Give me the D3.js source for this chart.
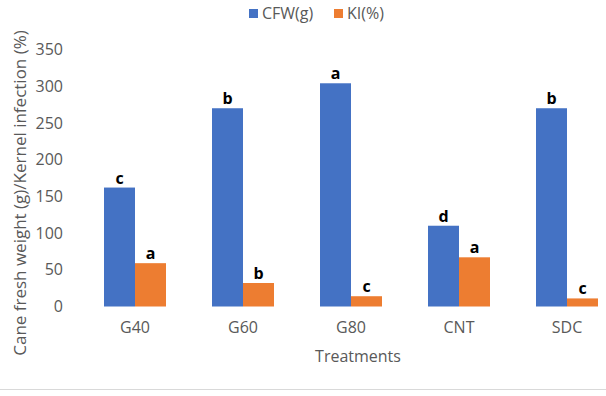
<!DOCTYPE html>
<html>
<head>
<meta charset="utf-8">
<script src="https://cdn.jsdelivr.net/npm/d3@7"></script>
<style>
  body { margin: 0; background: #fff; }
  text { font-family: "Open Sans", "Liberation Sans", sans-serif; }
</style>
</head>
<body>
<div id="graphicContainer"></div>
<script>
var treatments = ["G40", "G60", "G80", "CNT", "SDC"]
var seriesNames = ["CFW(g)", "KI(%)"]
var cfw = [162, 270, 304, 110, 270]
var ki = [59, 32, 14, 67, 11]
var cfwLetters = ["c", "b", "a", "d", "b"]
var kiLetters = ["a", "b", "c", "a", "c"]
var yTicks = [0, 50, 100, 150, 200, 250, 300, 350]

var colours = ["#4472c4", "#ed7d31"]

var width = 606
var height = 396

var svg = d3.select("#graphicContainer").append("svg")
	.attr("width", width)
	.attr("height", height)

// chart frame bottom edge
svg.append("line")
	.attr("x1", 0).attr("x2", width)
	.attr("y1", 389.5).attr("y2", 389.5)
	.attr("stroke", "#d9d9d9")

var x = d3.scaleBand()
	.domain(treatments)
	.range([81, 621])
	.paddingInner(0)

var x1 = d3.scaleBand()
	.domain(seriesNames)
	.range([23, 85])

var y = d3.scaleLinear()
	.domain([0, 350])
	.range([306.5, 49.5])

// y tick labels
var yAxis = svg.append("g")
	.attr("transform", "translate(67,0)")
	.call(d3.axisLeft(y).tickValues(yTicks).tickSize(0).tickPadding(4))
yAxis.select(".domain").remove()
yAxis.selectAll("text")
	.attr("font-size", 16)
	.attr("fill", "#595959")
	.style("font-family", "'Open Sans', sans-serif")

// x tick labels
var xAxis = svg.append("g")
	.attr("transform", "translate(0,306.5)")
	.call(d3.axisBottom(x).tickSize(0).tickPadding(15))
xAxis.select(".domain").remove()
xAxis.selectAll("text")
	.attr("font-size", 16)
	.attr("fill", "#595959")
	.style("font-family", "'Open Sans', sans-serif")

var rows = treatments.map(function(t, i) {
	return {name: t, vals: [
		{key: seriesNames[0], v: cfw[i], letter: cfwLetters[i]},
		{key: seriesNames[1], v: ki[i], letter: kiLetters[i]}
	]}
})

var groups = svg.selectAll(".grp")
	.data(rows)
	.enter()
	.append("g")
	.attr("transform", function(d) { return "translate(" + x(d.name) + ",0)" })

groups.selectAll("rect")
	.data(function(d) { return d.vals })
	.enter()
	.append("rect")
	.attr("x", function(d) { return x1(d.key) })
	.attr("width", x1.bandwidth())
	.attr("y", function(d) { return y(d.v) })
	.attr("height", function(d) { return y(0) - y(d.v) })
	.attr("fill", function(d, i) { return colours[i] })

groups.selectAll(".letter")
	.data(function(d) { return d.vals })
	.enter()
	.append("text")
	.attr("class", "letter")
	.attr("x", function(d) { return x1(d.key) + x1.bandwidth() / 2 })
	.attr("y", function(d) { return y(d.v) - 4 })
	.attr("text-anchor", "middle")
	.attr("font-size", 16)
	.attr("font-weight", "bold")
	.attr("fill", "#000")
	.text(function(d) { return d.letter })

// axis titles
svg.append("text")
	.attr("x", 358)
	.attr("y", 362)
	.attr("text-anchor", "middle")
	.attr("font-size", 16)
	.attr("fill", "#595959")
	.text("Treatments")

svg.append("text")
	.attr("transform", "translate(26,193) rotate(-90)")
	.attr("text-anchor", "middle")
	.attr("font-size", 17)
	.attr("fill", "#595959")
	.text("Cane fresh weight (g)/Kernel infection (%)")

// legend
var legendX = [249, 334]
var legend = svg.selectAll(".leg")
	.data(seriesNames)
	.enter()
	.append("g")
	.attr("transform", function(d, i) { return "translate(" + legendX[i] + ",9)" })

legend.append("rect")
	.attr("width", 9)
	.attr("height", 9)
	.attr("fill", function(d, i) { return colours[i] })

legend.append("text")
	.attr("x", 13)
	.attr("y", 10)
	.attr("font-size", 16)
	.attr("fill", "#595959")
	.text(function(d) { return d })
</script>
</body>
</html>
